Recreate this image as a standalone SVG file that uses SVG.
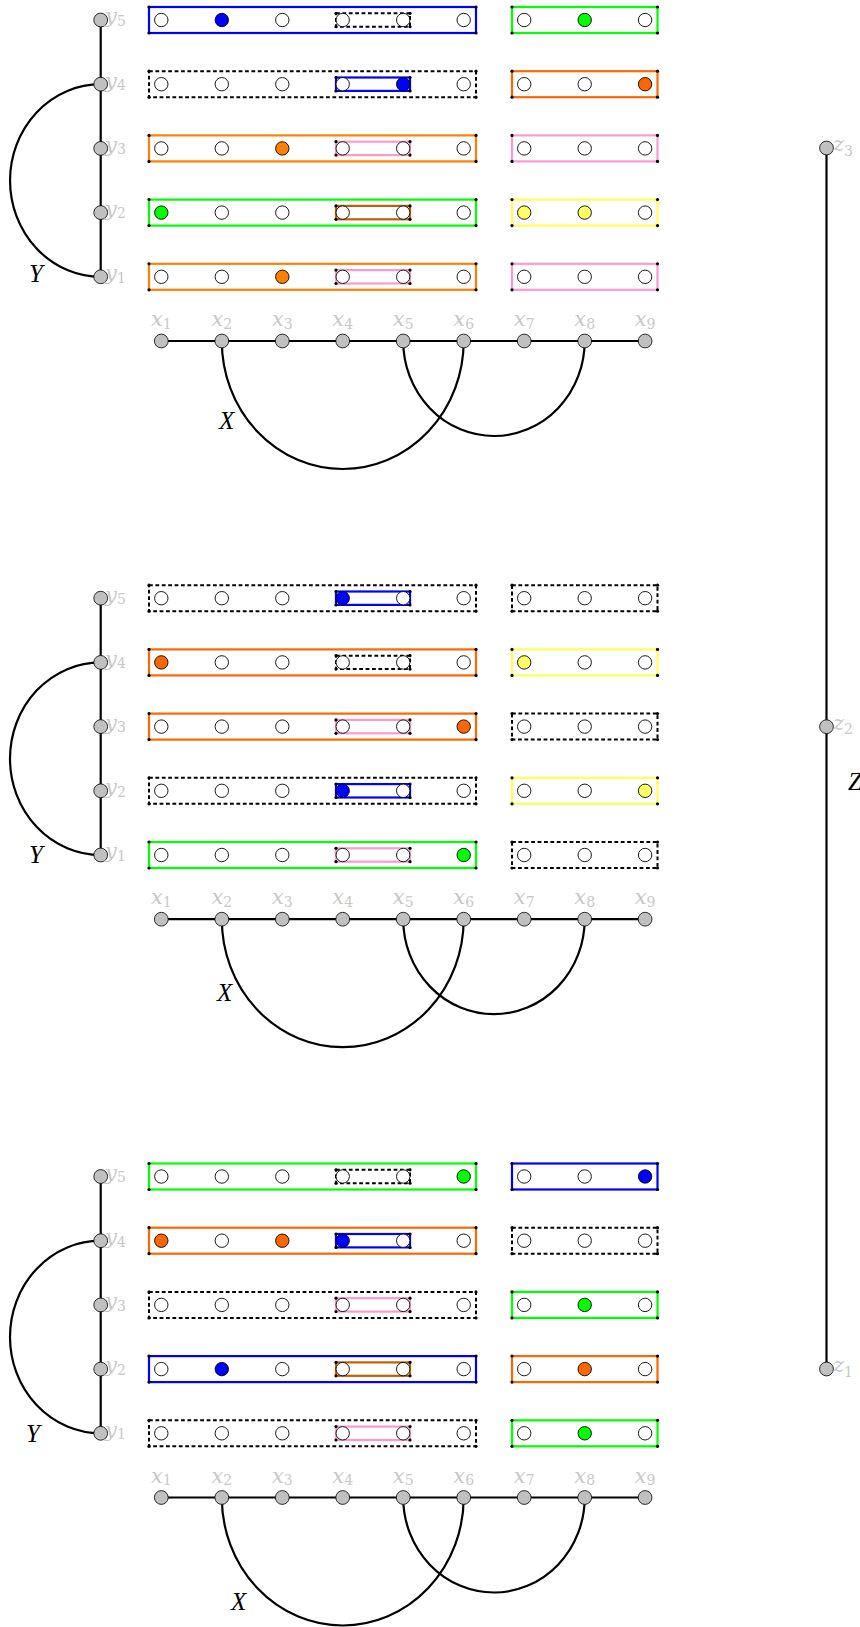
<svg xmlns="http://www.w3.org/2000/svg" xmlns:xlink="http://www.w3.org/1999/xlink" width="860" height="1627" viewBox="0 0 860 1627">
<style>
.c{fill:#fff;stroke:#000;stroke-width:0.9}
.fb{fill:#0000ff}.fg{fill:#00ff00}.fo{fill:#ff8000}.fr{fill:#ff6600}.fy{fill:#ffff66}
.bx{fill:none;stroke-width:2.2}
.sb{stroke:#0000ff}.sg{stroke:#00ff00}.so{stroke:#ff8000}.sr{stroke:#ff6600}.sp{stroke:#ff99cc}.sy{stroke:#ffff55}.sn{stroke:#c06000}
.sd{stroke:#000;stroke-width:2;stroke-dasharray:3.8 2.6}
.dot{fill:#000}
.n{fill:#c0c0c0;stroke:#000;stroke-width:0.8}
.e{fill:none;stroke:#000;stroke-width:2.2}
.lab{font-family:"DejaVu Serif",serif;font-style:italic;font-size:21px;fill:#c8c8c8}
.sub{font-size:14px;font-style:normal}
.big{font-family:"Liberation Serif",serif;font-style:italic;font-size:25px;fill:#000}
</style>
<defs>
<g id="od" class="dot"><circle cx="149" cy="-13" r="1.6"/><circle cx="476" cy="-13" r="1.6"/><circle cx="149" cy="13" r="1.6"/><circle cx="476" cy="13" r="1.6"/></g>
<g id="id" class="dot"><circle cx="336" cy="-6.7" r="1.6"/><circle cx="410" cy="-6.7" r="1.6"/><circle cx="336" cy="6.7" r="1.6"/><circle cx="410" cy="6.7" r="1.6"/></g>
<g id="rd" class="dot"><circle cx="512" cy="-13" r="1.6"/><circle cx="657.5" cy="-13" r="1.6"/><circle cx="512" cy="13" r="1.6"/><circle cx="657.5" cy="13" r="1.6"/></g>
</defs>

<g id="connectors">
<line class="e" x1="100.7" y1="20" x2="100.7" y2="276.8"/>
<path class="e" d="M100.7,84.2 A90.7,96.3 0 0 0 100.7,276.8"/>
<line class="e" x1="161.3" y1="341" x2="645.1" y2="341"/>
<path class="e" d="M221.8,341 A120.95,128 0 0 0 463.7,341"/>
<path class="e" d="M403.2,341 A90.75,95 0 0 0 584.7,341"/>
<line class="e" x1="100.7" y1="598.2" x2="100.7" y2="855"/>
<path class="e" d="M100.7,662.4 A90.7,96.3 0 0 0 100.7,855"/>
<line class="e" x1="161.3" y1="919.2" x2="645.1" y2="919.2"/>
<path class="e" d="M221.8,919.2 A120.95,128 0 0 0 463.7,919.2"/>
<path class="e" d="M403.2,919.2 A90.75,95 0 0 0 584.7,919.2"/>
<line class="e" x1="100.7" y1="1176.5" x2="100.7" y2="1433.3"/>
<path class="e" d="M100.7,1240.7 A90.7,96.3 0 0 0 100.7,1433.3"/>
<line class="e" x1="161.3" y1="1497.5" x2="645.1" y2="1497.5"/>
<path class="e" d="M221.8,1497.5 A120.95,128 0 0 0 463.7,1497.5"/>
<path class="e" d="M403.2,1497.5 A90.75,95 0 0 0 584.7,1497.5"/>
<line class="e" x1="826.5" y1="148" x2="826.5" y2="1369"/>
</g>

<g id="s1-row5" transform="translate(0,20)">
<rect class="bx sb" x="149" y="-13" width="327" height="26"/><use href="#od"/>
<rect class="sd" fill="none" x="336" y="-6.7" width="74" height="13.4"/><use href="#id"/>
<circle class="c" cx="161.3" r="6.7"/><circle class="c fb" cx="221.8" r="6.7"/><circle class="c" cx="282.3" r="6.7"/><circle class="c" cx="342.7" r="6.7"/><circle class="c" cx="403.2" r="6.7"/><circle class="c" cx="463.7" r="6.7"/>
<rect class="bx sg" x="512" y="-13" width="145.5" height="26"/><use href="#rd"/>
<circle class="c" cx="524.2" r="6.7"/><circle class="c fg" cx="584.7" r="6.7"/><circle class="c" cx="645.1" r="6.7"/>
</g>
<g id="s1-row4" transform="translate(0,84.2)">
<rect class="sd" fill="none" x="149" y="-13" width="327" height="26"/><use href="#od"/>
<rect class="bx sb" x="336" y="-6.7" width="74" height="13.4"/><use href="#id"/>
<circle class="c" cx="161.3" r="6.7"/><circle class="c" cx="221.8" r="6.7"/><circle class="c" cx="282.3" r="6.7"/><circle class="c" cx="342.7" r="6.7"/><circle class="c fb" cx="403.2" r="6.7"/><circle class="c" cx="463.7" r="6.7"/>
<rect class="bx sr" x="512" y="-13" width="145.5" height="26"/><use href="#rd"/>
<circle class="c" cx="524.2" r="6.7"/><circle class="c" cx="584.7" r="6.7"/><circle class="c fr" cx="645.1" r="6.7"/>
</g>
<g id="s1-row3" transform="translate(0,148.4)">
<rect class="bx so" x="149" y="-13" width="327" height="26"/><use href="#od"/>
<rect class="bx sp" x="336" y="-6.7" width="74" height="13.4"/><use href="#id"/>
<circle class="c" cx="161.3" r="6.7"/><circle class="c" cx="221.8" r="6.7"/><circle class="c fo" cx="282.3" r="6.7"/><circle class="c" cx="342.7" r="6.7"/><circle class="c" cx="403.2" r="6.7"/><circle class="c" cx="463.7" r="6.7"/>
<rect class="bx sp" x="512" y="-13" width="145.5" height="26"/><use href="#rd"/>
<circle class="c" cx="524.2" r="6.7"/><circle class="c" cx="584.7" r="6.7"/><circle class="c" cx="645.1" r="6.7"/>
</g>
<g id="s1-row2" transform="translate(0,212.6)">
<rect class="bx sg" x="149" y="-13" width="327" height="26"/><use href="#od"/>
<rect class="bx sn" x="336" y="-6.7" width="74" height="13.4"/><use href="#id"/>
<circle class="c fg" cx="161.3" r="6.7"/><circle class="c" cx="221.8" r="6.7"/><circle class="c" cx="282.3" r="6.7"/><circle class="c" cx="342.7" r="6.7"/><circle class="c" cx="403.2" r="6.7"/><circle class="c" cx="463.7" r="6.7"/>
<rect class="bx sy" x="512" y="-13" width="145.5" height="26"/><use href="#rd"/>
<circle class="c fy" cx="524.2" r="6.7"/><circle class="c fy" cx="584.7" r="6.7"/><circle class="c" cx="645.1" r="6.7"/>
</g>
<g id="s1-row1" transform="translate(0,276.8)">
<rect class="bx so" x="149" y="-13" width="327" height="26"/><use href="#od"/>
<rect class="bx sp" x="336" y="-6.7" width="74" height="13.4"/><use href="#id"/>
<circle class="c" cx="161.3" r="6.7"/><circle class="c" cx="221.8" r="6.7"/><circle class="c fo" cx="282.3" r="6.7"/><circle class="c" cx="342.7" r="6.7"/><circle class="c" cx="403.2" r="6.7"/><circle class="c" cx="463.7" r="6.7"/>
<rect class="bx sp" x="512" y="-13" width="145.5" height="26"/><use href="#rd"/>
<circle class="c" cx="524.2" r="6.7"/><circle class="c" cx="584.7" r="6.7"/><circle class="c" cx="645.1" r="6.7"/>
</g>

<g id="s2-row5" transform="translate(0,598.2)">
<rect class="sd" fill="none" x="149" y="-13" width="327" height="26"/><use href="#od"/>
<rect class="bx sb" x="336" y="-6.7" width="74" height="13.4"/><use href="#id"/>
<circle class="c" cx="161.3" r="6.7"/><circle class="c" cx="221.8" r="6.7"/><circle class="c" cx="282.3" r="6.7"/><circle class="c fb" cx="342.7" r="6.7"/><circle class="c" cx="403.2" r="6.7"/><circle class="c" cx="463.7" r="6.7"/>
<rect class="sd" fill="none" x="512" y="-13" width="145.5" height="26"/><use href="#rd"/>
<circle class="c" cx="524.2" r="6.7"/><circle class="c" cx="584.7" r="6.7"/><circle class="c" cx="645.1" r="6.7"/>
</g>
<g id="s2-row4" transform="translate(0,662.4)">
<rect class="bx sr" x="149" y="-13" width="327" height="26"/><use href="#od"/>
<rect class="sd" fill="none" x="336" y="-6.7" width="74" height="13.4"/><use href="#id"/>
<circle class="c fr" cx="161.3" r="6.7"/><circle class="c" cx="221.8" r="6.7"/><circle class="c" cx="282.3" r="6.7"/><circle class="c" cx="342.7" r="6.7"/><circle class="c" cx="403.2" r="6.7"/><circle class="c" cx="463.7" r="6.7"/>
<rect class="bx sy" x="512" y="-13" width="145.5" height="26"/><use href="#rd"/>
<circle class="c fy" cx="524.2" r="6.7"/><circle class="c" cx="584.7" r="6.7"/><circle class="c" cx="645.1" r="6.7"/>
</g>
<g id="s2-row3" transform="translate(0,726.6)">
<rect class="bx sr" x="149" y="-13" width="327" height="26"/><use href="#od"/>
<rect class="bx sp" x="336" y="-6.7" width="74" height="13.4"/><use href="#id"/>
<circle class="c" cx="161.3" r="6.7"/><circle class="c" cx="221.8" r="6.7"/><circle class="c" cx="282.3" r="6.7"/><circle class="c" cx="342.7" r="6.7"/><circle class="c" cx="403.2" r="6.7"/><circle class="c fr" cx="463.7" r="6.7"/>
<rect class="sd" fill="none" x="512" y="-13" width="145.5" height="26"/><use href="#rd"/>
<circle class="c" cx="524.2" r="6.7"/><circle class="c" cx="584.7" r="6.7"/><circle class="c" cx="645.1" r="6.7"/>
</g>
<g id="s2-row2" transform="translate(0,790.8)">
<rect class="sd" fill="none" x="149" y="-13" width="327" height="26"/><use href="#od"/>
<rect class="bx sb" x="336" y="-6.7" width="74" height="13.4"/><use href="#id"/>
<circle class="c" cx="161.3" r="6.7"/><circle class="c" cx="221.8" r="6.7"/><circle class="c" cx="282.3" r="6.7"/><circle class="c fb" cx="342.7" r="6.7"/><circle class="c" cx="403.2" r="6.7"/><circle class="c" cx="463.7" r="6.7"/>
<rect class="bx sy" x="512" y="-13" width="145.5" height="26"/><use href="#rd"/>
<circle class="c" cx="524.2" r="6.7"/><circle class="c" cx="584.7" r="6.7"/><circle class="c fy" cx="645.1" r="6.7"/>
</g>
<g id="s2-row1" transform="translate(0,855)">
<rect class="bx sg" x="149" y="-13" width="327" height="26"/><use href="#od"/>
<rect class="bx sp" x="336" y="-6.7" width="74" height="13.4"/><use href="#id"/>
<circle class="c" cx="161.3" r="6.7"/><circle class="c" cx="221.8" r="6.7"/><circle class="c" cx="282.3" r="6.7"/><circle class="c" cx="342.7" r="6.7"/><circle class="c" cx="403.2" r="6.7"/><circle class="c fg" cx="463.7" r="6.7"/>
<rect class="sd" fill="none" x="512" y="-13" width="145.5" height="26"/><use href="#rd"/>
<circle class="c" cx="524.2" r="6.7"/><circle class="c" cx="584.7" r="6.7"/><circle class="c" cx="645.1" r="6.7"/>
</g>

<g id="s3-row5" transform="translate(0,1176.5)">
<rect class="bx sg" x="149" y="-13" width="327" height="26"/><use href="#od"/>
<rect class="sd" fill="none" x="336" y="-6.7" width="74" height="13.4"/><use href="#id"/>
<circle class="c" cx="161.3" r="6.7"/><circle class="c" cx="221.8" r="6.7"/><circle class="c" cx="282.3" r="6.7"/><circle class="c" cx="342.7" r="6.7"/><circle class="c" cx="403.2" r="6.7"/><circle class="c fg" cx="463.7" r="6.7"/>
<rect class="bx sb" x="512" y="-13" width="145.5" height="26"/><use href="#rd"/>
<circle class="c" cx="524.2" r="6.7"/><circle class="c" cx="584.7" r="6.7"/><circle class="c fb" cx="645.1" r="6.7"/>
</g>
<g id="s3-row4" transform="translate(0,1240.7)">
<rect class="bx sr" x="149" y="-13" width="327" height="26"/><use href="#od"/>
<rect class="bx sb" x="336" y="-6.7" width="74" height="13.4"/><use href="#id"/>
<circle class="c fr" cx="161.3" r="6.7"/><circle class="c" cx="221.8" r="6.7"/><circle class="c fr" cx="282.3" r="6.7"/><circle class="c fb" cx="342.7" r="6.7"/><circle class="c" cx="403.2" r="6.7"/><circle class="c" cx="463.7" r="6.7"/>
<rect class="sd" fill="none" x="512" y="-13" width="145.5" height="26"/><use href="#rd"/>
<circle class="c" cx="524.2" r="6.7"/><circle class="c" cx="584.7" r="6.7"/><circle class="c" cx="645.1" r="6.7"/>
</g>
<g id="s3-row3" transform="translate(0,1304.9)">
<rect class="sd" fill="none" x="149" y="-13" width="327" height="26"/><use href="#od"/>
<rect class="bx sp" x="336" y="-6.7" width="74" height="13.4"/><use href="#id"/>
<circle class="c" cx="161.3" r="6.7"/><circle class="c" cx="221.8" r="6.7"/><circle class="c" cx="282.3" r="6.7"/><circle class="c" cx="342.7" r="6.7"/><circle class="c" cx="403.2" r="6.7"/><circle class="c" cx="463.7" r="6.7"/>
<rect class="bx sg" x="512" y="-13" width="145.5" height="26"/><use href="#rd"/>
<circle class="c" cx="524.2" r="6.7"/><circle class="c fg" cx="584.7" r="6.7"/><circle class="c" cx="645.1" r="6.7"/>
</g>
<g id="s3-row2" transform="translate(0,1369.1)">
<rect class="bx sb" x="149" y="-13" width="327" height="26"/><use href="#od"/>
<rect class="bx sn" x="336" y="-6.7" width="74" height="13.4"/><use href="#id"/>
<circle class="c" cx="161.3" r="6.7"/><circle class="c fb" cx="221.8" r="6.7"/><circle class="c" cx="282.3" r="6.7"/><circle class="c" cx="342.7" r="6.7"/><circle class="c" cx="403.2" r="6.7"/><circle class="c" cx="463.7" r="6.7"/>
<rect class="bx sr" x="512" y="-13" width="145.5" height="26"/><use href="#rd"/>
<circle class="c" cx="524.2" r="6.7"/><circle class="c fr" cx="584.7" r="6.7"/><circle class="c" cx="645.1" r="6.7"/>
</g>
<g id="s3-row1" transform="translate(0,1433.3)">
<rect class="sd" fill="none" x="149" y="-13" width="327" height="26"/><use href="#od"/>
<rect class="bx sp" x="336" y="-6.7" width="74" height="13.4"/><use href="#id"/>
<circle class="c" cx="161.3" r="6.7"/><circle class="c" cx="221.8" r="6.7"/><circle class="c" cx="282.3" r="6.7"/><circle class="c" cx="342.7" r="6.7"/><circle class="c" cx="403.2" r="6.7"/><circle class="c" cx="463.7" r="6.7"/>
<rect class="bx sg" x="512" y="-13" width="145.5" height="26"/><use href="#rd"/>
<circle class="c" cx="524.2" r="6.7"/><circle class="c fg" cx="584.7" r="6.7"/><circle class="c" cx="645.1" r="6.7"/>
</g>

<g id="s1-y"><circle class="n" cx="100.7" cy="20" r="6.9"/><circle class="n" cx="100.7" cy="84.2" r="6.9"/><circle class="n" cx="100.7" cy="148.4" r="6.9"/><circle class="n" cx="100.7" cy="212.6" r="6.9"/><circle class="n" cx="100.7" cy="276.8" r="6.9"/>
<text class="lab" x="105" y="23.3">y<tspan class="sub" dy="2.5">5</tspan></text>
<text class="lab" x="105" y="87.5">y<tspan class="sub" dy="2.5">4</tspan></text>
<text class="lab" x="105" y="151.7">y<tspan class="sub" dy="2.5">3</tspan></text>
<text class="lab" x="105" y="215.9">y<tspan class="sub" dy="2.5">2</tspan></text>
<text class="lab" x="105" y="280.1">y<tspan class="sub" dy="2.5">1</tspan></text>
<text class="big" x="29" y="282">Y</text>
</g>
<g id="s2-y"><circle class="n" cx="100.7" cy="598.2" r="6.9"/><circle class="n" cx="100.7" cy="662.4" r="6.9"/><circle class="n" cx="100.7" cy="726.6" r="6.9"/><circle class="n" cx="100.7" cy="790.8" r="6.9"/><circle class="n" cx="100.7" cy="855" r="6.9"/>
<text class="lab" x="105" y="601.5">y<tspan class="sub" dy="2.5">5</tspan></text>
<text class="lab" x="105" y="665.7">y<tspan class="sub" dy="2.5">4</tspan></text>
<text class="lab" x="105" y="729.9">y<tspan class="sub" dy="2.5">3</tspan></text>
<text class="lab" x="105" y="794.1">y<tspan class="sub" dy="2.5">2</tspan></text>
<text class="lab" x="105" y="858.3">y<tspan class="sub" dy="2.5">1</tspan></text>
<text class="big" x="29" y="862.7">Y</text>
</g>
<g id="s3-y"><circle class="n" cx="100.7" cy="1176.5" r="6.9"/><circle class="n" cx="100.7" cy="1240.7" r="6.9"/><circle class="n" cx="100.7" cy="1304.9" r="6.9"/><circle class="n" cx="100.7" cy="1369.1" r="6.9"/><circle class="n" cx="100.7" cy="1433.3" r="6.9"/>
<text class="lab" x="105" y="1179.8">y<tspan class="sub" dy="2.5">5</tspan></text>
<text class="lab" x="105" y="1244">y<tspan class="sub" dy="2.5">4</tspan></text>
<text class="lab" x="105" y="1308.2">y<tspan class="sub" dy="2.5">3</tspan></text>
<text class="lab" x="105" y="1372.4">y<tspan class="sub" dy="2.5">2</tspan></text>
<text class="lab" x="105" y="1436.6">y<tspan class="sub" dy="2.5">1</tspan></text>
<text class="big" x="26" y="1441.7">Y</text>
</g>

<g id="s1-x">
<circle class="n" cx="161.3" cy="341" r="6.9"/><circle class="n" cx="221.8" cy="341" r="6.9"/><circle class="n" cx="282.3" cy="341" r="6.9"/><circle class="n" cx="342.7" cy="341" r="6.9"/><circle class="n" cx="403.2" cy="341" r="6.9"/><circle class="n" cx="463.7" cy="341" r="6.9"/><circle class="n" cx="524.2" cy="341" r="6.9"/><circle class="n" cx="584.7" cy="341" r="6.9"/><circle class="n" cx="645.1" cy="341" r="6.9"/>
<g text-anchor="middle">
<text class="lab" x="161.3" y="326">x<tspan class="sub" dy="2.5">1</tspan></text>
<text class="lab" x="221.8" y="326">x<tspan class="sub" dy="2.5">2</tspan></text>
<text class="lab" x="282.3" y="326">x<tspan class="sub" dy="2.5">3</tspan></text>
<text class="lab" x="342.7" y="326">x<tspan class="sub" dy="2.5">4</tspan></text>
<text class="lab" x="403.2" y="326">x<tspan class="sub" dy="2.5">5</tspan></text>
<text class="lab" x="463.7" y="326">x<tspan class="sub" dy="2.5">6</tspan></text>
<text class="lab" x="524.2" y="326">x<tspan class="sub" dy="2.5">7</tspan></text>
<text class="lab" x="584.7" y="326">x<tspan class="sub" dy="2.5">8</tspan></text>
<text class="lab" x="645.1" y="326">x<tspan class="sub" dy="2.5">9</tspan></text>
</g>
<text class="big" x="219" y="428.5">X</text>
</g>
<g id="s2-x">
<circle class="n" cx="161.3" cy="919.2" r="6.9"/><circle class="n" cx="221.8" cy="919.2" r="6.9"/><circle class="n" cx="282.3" cy="919.2" r="6.9"/><circle class="n" cx="342.7" cy="919.2" r="6.9"/><circle class="n" cx="403.2" cy="919.2" r="6.9"/><circle class="n" cx="463.7" cy="919.2" r="6.9"/><circle class="n" cx="524.2" cy="919.2" r="6.9"/><circle class="n" cx="584.7" cy="919.2" r="6.9"/><circle class="n" cx="645.1" cy="919.2" r="6.9"/>
<g text-anchor="middle">
<text class="lab" x="161.3" y="904.2">x<tspan class="sub" dy="2.5">1</tspan></text>
<text class="lab" x="221.8" y="904.2">x<tspan class="sub" dy="2.5">2</tspan></text>
<text class="lab" x="282.3" y="904.2">x<tspan class="sub" dy="2.5">3</tspan></text>
<text class="lab" x="342.7" y="904.2">x<tspan class="sub" dy="2.5">4</tspan></text>
<text class="lab" x="403.2" y="904.2">x<tspan class="sub" dy="2.5">5</tspan></text>
<text class="lab" x="463.7" y="904.2">x<tspan class="sub" dy="2.5">6</tspan></text>
<text class="lab" x="524.2" y="904.2">x<tspan class="sub" dy="2.5">7</tspan></text>
<text class="lab" x="584.7" y="904.2">x<tspan class="sub" dy="2.5">8</tspan></text>
<text class="lab" x="645.1" y="904.2">x<tspan class="sub" dy="2.5">9</tspan></text>
</g>
<text class="big" x="217" y="1001">X</text>
</g>
<g id="s3-x">
<circle class="n" cx="161.3" cy="1497.5" r="6.9"/><circle class="n" cx="221.8" cy="1497.5" r="6.9"/><circle class="n" cx="282.3" cy="1497.5" r="6.9"/><circle class="n" cx="342.7" cy="1497.5" r="6.9"/><circle class="n" cx="403.2" cy="1497.5" r="6.9"/><circle class="n" cx="463.7" cy="1497.5" r="6.9"/><circle class="n" cx="524.2" cy="1497.5" r="6.9"/><circle class="n" cx="584.7" cy="1497.5" r="6.9"/><circle class="n" cx="645.1" cy="1497.5" r="6.9"/>
<g text-anchor="middle">
<text class="lab" x="161.3" y="1482.5">x<tspan class="sub" dy="2.5">1</tspan></text>
<text class="lab" x="221.8" y="1482.5">x<tspan class="sub" dy="2.5">2</tspan></text>
<text class="lab" x="282.3" y="1482.5">x<tspan class="sub" dy="2.5">3</tspan></text>
<text class="lab" x="342.7" y="1482.5">x<tspan class="sub" dy="2.5">4</tspan></text>
<text class="lab" x="403.2" y="1482.5">x<tspan class="sub" dy="2.5">5</tspan></text>
<text class="lab" x="463.7" y="1482.5">x<tspan class="sub" dy="2.5">6</tspan></text>
<text class="lab" x="524.2" y="1482.5">x<tspan class="sub" dy="2.5">7</tspan></text>
<text class="lab" x="584.7" y="1482.5">x<tspan class="sub" dy="2.5">8</tspan></text>
<text class="lab" x="645.1" y="1482.5">x<tspan class="sub" dy="2.5">9</tspan></text>
</g>
<text class="big" x="231" y="1610">X</text>
</g>

<g id="z">
<circle class="n" cx="826.5" cy="148" r="6.9"/><circle class="n" cx="826.5" cy="726.7" r="6.9"/><circle class="n" cx="826.5" cy="1369" r="6.9"/>
<text class="lab" x="833" y="151">z<tspan class="sub" dy="4.5">3</tspan></text>
<text class="lab" x="833" y="729.7">z<tspan class="sub" dy="4.5">2</tspan></text>
<text class="lab" x="833" y="1372">z<tspan class="sub" dy="4.5">1</tspan></text>
<text class="big" x="848" y="790">Z</text>
</g>
</svg>
